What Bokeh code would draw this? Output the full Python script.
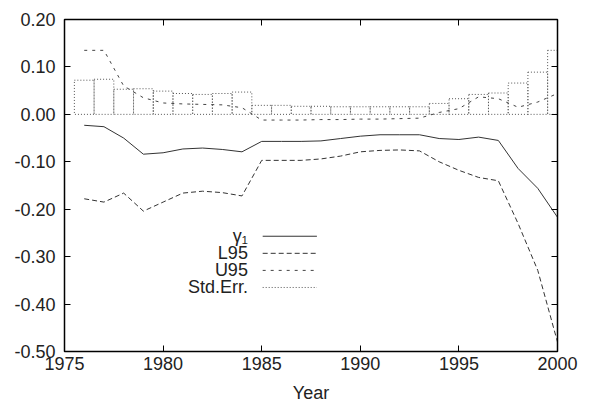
import numpy as np
from bokeh.plotting import figure
from bokeh.models import LinearAxis, FixedTicker, NumeralTickFormatter, Label, CustomJSTickFormatter
from bokeh.embed import file_html
from bokeh.resources import INLINE

# ---- data ----
years = list(range(1976, 2001))
gamma1 = [-0.023, -0.026, -0.050, -0.084, -0.081, -0.073, -0.071, -0.074, -0.079,
          -0.057, -0.057, -0.057, -0.056, -0.051, -0.046, -0.043, -0.043, -0.043,
          -0.051, -0.053, -0.048, -0.055, -0.114, -0.156, -0.217]
l95 = [-0.178, -0.185, -0.166, -0.204, -0.185, -0.166, -0.162, -0.165, -0.172,
       -0.097, -0.097, -0.097, -0.094, -0.088, -0.079, -0.076, -0.075, -0.077,
       -0.100, -0.118, -0.133, -0.140, -0.230, -0.329, -0.480]
u95 = [0.135, 0.135, 0.060, 0.035, 0.024, 0.022, 0.021, 0.020, 0.014,
       -0.012, -0.012, -0.012, -0.011, -0.011, -0.010, -0.010, -0.009, -0.008,
       0.004, 0.012, 0.037, 0.033, 0.015, 0.026, 0.044]
std_err = [0.072, 0.074, 0.053, 0.054, 0.049, 0.044, 0.042, 0.044, 0.047,
           0.019, 0.019, 0.017, 0.017, 0.016, 0.016, 0.016, 0.016, 0.016,
           0.023, 0.033, 0.042, 0.045, 0.066, 0.089, 0.135]
x_ticks = [1975, 1980, 1985, 1990, 1995, 2000]
y_ticks = [-0.5, -0.4, -0.3, -0.2, -0.1, 0.0, 0.1, 0.2]
legend_labels = ["γ₁", "L95", "U95", "Std.Err."]

FONT = "Liberation Sans"
FS = "18px"
INK = "#222222"

p = figure(frame_width=493, frame_height=332, x_range=(1975, 2000), y_range=(-0.5, 0.2),
           output_backend="svg", toolbar_location=None,
           min_border_left=64, min_border_right=35, min_border_top=19, min_border_bottom=56,
           background_fill_color="white", border_fill_color="white")
p.grid.visible = False
p.outline_line_color = "black"
p.outline_line_width = 1.5

p.xaxis.ticker = FixedTicker(ticks=x_ticks)
p.yaxis.ticker = FixedTicker(ticks=y_ticks)
for ax in [p.xaxis[0], p.yaxis[0]]:
    ax.major_tick_in = 6
    ax.major_tick_out = 0
    ax.minor_tick_line_color = None
    ax.axis_line_color = "black"
    ax.major_label_text_font = FONT
    ax.major_label_text_font_size = FS
    ax.major_label_text_color = INK
p.xaxis.major_label_standoff = 5
p.yaxis.major_label_standoff = 9
p.yaxis.formatter = NumeralTickFormatter(format="0.00")
p.xaxis.axis_label = "Year"
p.xaxis.axis_label_text_font = FONT
p.xaxis.axis_label_text_font_size = FS
p.xaxis.axis_label_text_font_style = "normal"
p.xaxis.axis_label_text_color = INK
p.xaxis.axis_label_standoff = 10

blank = CustomJSTickFormatter(code="return '';")
top = LinearAxis(ticker=FixedTicker(ticks=x_ticks), major_tick_in=6, major_tick_out=0,
                 minor_tick_line_color=None, formatter=blank, major_label_standoff=0)
right = LinearAxis(ticker=FixedTicker(ticks=y_ticks), major_tick_in=6, major_tick_out=0,
                   minor_tick_line_color=None, formatter=blank, major_label_standoff=0)
p.add_layout(top, "above")
p.add_layout(right, "right")

# Std.Err. bars
p.vbar(x=years, width=1, top=std_err, bottom=0, fill_color=None,
       line_color="#555555", line_dash="1 2", line_width=1)
# lines
p.line(years, gamma1, line_color="#333333", line_width=1)
p.line(years, l95, line_color="#333333", line_width=1, line_dash="5 3")
p.line(years, u95, line_color="#444444", line_width=1, line_dash="3 5")

# manual legend (labels to the left of samples)
styles = [dict(line_dash="solid", line_color="#333333"),
          dict(line_dash="5 3", line_color="#333333"),
          dict(line_dash="3 5", line_color="#444444"),
          dict(line_dash="1 2", line_color="#555555")]
leg_y = [-0.257, -0.293, -0.329, -0.365]
for lab, yy, st in zip(legend_labels, leg_y, styles):
    p.segment(x0=[1985.05], x1=[1987.8], y0=[yy], y1=[yy], line_width=1, **st)
    p.add_layout(Label(x=1984.3, y=yy, text=lab, text_align="right", text_baseline="middle",
                       text_font=FONT, text_font_size=FS, text_color=INK))

open("out.html", "w").write(file_html(p, INLINE))
